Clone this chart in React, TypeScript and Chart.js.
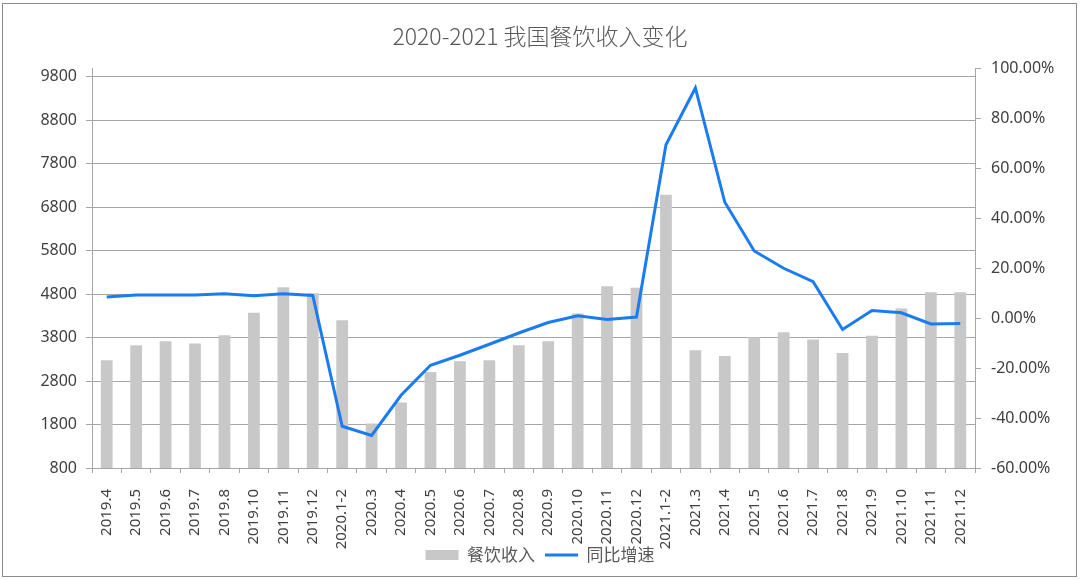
import React, { useEffect, useRef } from "react";
import { Chart, registerables } from "chart.js";

Chart.register(...registerables);

const categories = [
  "2019.4", "2019.5", "2019.6", "2019.7", "2019.8", "2019.10", "2019.11", "2019.12",
  "2020.1-2", "2020.3", "2020.4", "2020.5", "2020.6", "2020.7", "2020.8", "2020.9",
  "2020.10", "2020.11", "2020.12", "2021.1-2", "2021.3", "2021.4", "2021.5", "2021.6",
  "2021.7", "2021.8", "2021.9", "2021.10", "2021.11", "2021.12",
];

const revenue = [
  3280, 3625, 3717, 3664, 3855, 4368, 4960, 4820,
  4200, 1822, 2305, 3010, 3256, 3279, 3625, 3717,
  4354, 4983, 4944, 7085, 3509, 3378, 3809, 3924,
  3756, 3447, 3839, 4469, 4845, 4845,
];

const growth = [
  8.4, 9.2, 9.2, 9.2, 9.7, 8.9, 9.7, 9.0,
  -43.3, -47.0, -30.9, -18.9, -14.9, -10.5, -6.0, -1.8,
  0.9, -0.6, 0.4, 69.3, 92.0, 46.3, 26.8, 19.9,
  14.5, -4.6, 3.0, 2.1, -2.4, -2.2,
];

const leftTicks = [800, 1800, 2800, 3800, 4800, 5800, 6800, 7800, 8800, 9800];
const rightTicks = [-60, -40, -20, 0, 20, 40, 60, 80, 100];

const titleText = "2020-2021 我国餐饮收入变化";
const barLabel = "餐饮收入";
const lineLabel = "同比增速";

export default function App() {
  const ref = useRef<HTMLCanvasElement>(null);

  useEffect(() => {
    if (!ref.current) return;
    const axisColor = "#a6a6a6";
    const textColor = "#404040";
    const frame = {
      id: "frame",
      afterLayout(chart: any) {
        // let rotated category labels extend below their box without clipping
        const x = chart.scales.x;
        if (x) x.bottom = chart.height;
      },
      beforeDraw(chart: any) {
        const c = chart.ctx;
        c.save();
        c.fillStyle = "#ffffff";
        c.fillRect(0, 0, chart.width, chart.height);
        c.restore();
      },
      afterDraw(chart: any) {
        const c = chart.ctx;
        c.save();
        c.strokeStyle = "#8c8c8c";
        c.lineWidth = 1;
        c.strokeRect(2.5, 3.5, 1074, 573);
        c.restore();
      },
    };

    const chart = new Chart(ref.current, {
      data: {
        labels: categories,
        datasets: [
          {
            type: "bar",
            label: barLabel,
            data: revenue,
            yAxisID: "y",
            backgroundColor: "#c8c8c8",
            borderWidth: 0,
            barPercentage: 0.4,
            categoryPercentage: 1,
            pointStyle: "rect",
            order: 2,
          } as any,
          {
            type: "line",
            label: lineLabel,
            data: growth,
            yAxisID: "y1",
            borderColor: "#1a7cf0",
            backgroundColor: "#1a7cf0",
            borderWidth: 3,
            pointRadius: 0,
            pointStyle: "line",
            tension: 0,
            order: 1,
          } as any,
        ],
      },
      options: {
        responsive: false,
        animation: false,
        devicePixelRatio: 1,
        layout: { padding: { left: 0, right: 0, top: 0, bottom: 6.5 } },
        plugins: {
          title: {
            display: true,
            text: titleText,
            color: "#595959",
            font: { family: "'Noto Sans CJK SC', 'Noto Sans'", size: 23, weight: "300" },
            padding: { top: 22.2, bottom: 18.2 },
          },
          legend: {
            display: true,
            position: "bottom",
            labels: {
              usePointStyle: true,
              pointStyleWidth: 33,
              boxHeight: 10,
              padding: 10,
              color: "#595959",
              font: { family: "'Noto Sans CJK SC', 'Noto Sans'", size: 17 },
              sort: (a: any, b: any) => a.datasetIndex - b.datasetIndex,
            },
          },
          tooltip: { enabled: false },
        },
        scales: {
          x: {
            type: "category",
            offset: true,
            grid: { display: true, drawOnChartArea: false, tickLength: 5, color: axisColor, offset: true },
            border: { color: axisColor },
            ticks: {
              minRotation: 90,
              maxRotation: 90,
              autoSkip: false,
              padding: 16,
              color: textColor,
              font: { family: "'Noto Sans'", size: 15 },
            },
            afterFit: (s: any) => {
              s.height = 68.5;
            },
          },
          y: {
            type: "linear",
            position: "left",
            min: 800,
            max: 10000,
            afterBuildTicks: (s: any) => {
              s.ticks = leftTicks.map((v) => ({ value: v }));
            },
            grid: { color: axisColor, tickLength: 6 },
            border: { color: axisColor },
            ticks: {
              padding: 9,
              color: textColor,
              font: { family: "'Noto Sans'", size: 16 },
              callback: (v: any) => String(v),
            },
            afterFit: (s: any) => {
              s.width = 92;
            },
          },
          y1: {
            type: "linear",
            position: "right",
            min: -60,
            max: 100,
            afterBuildTicks: (s: any) => {
              s.ticks = rightTicks.map((v) => ({ value: v }));
            },
            grid: { drawOnChartArea: false, tickLength: 6, color: axisColor },
            border: { color: axisColor },
            ticks: {
              padding: 10,
              color: textColor,
              font: { family: "'Noto Sans'", size: 16 },
              callback: (v: any) => Number(v).toFixed(2) + "%",
            },
            afterFit: (s: any) => {
              s.width = 105;
            },
          },
        },
      } as any,
      plugins: [frame],
    });
    return () => chart.destroy();
  }, []);

  return (
    <div style={{ position: "absolute", left: 0, top: 0, width: 1080, height: 580 }}>
      <canvas ref={ref} width={1080} height={580} />
    </div>
  );
}
